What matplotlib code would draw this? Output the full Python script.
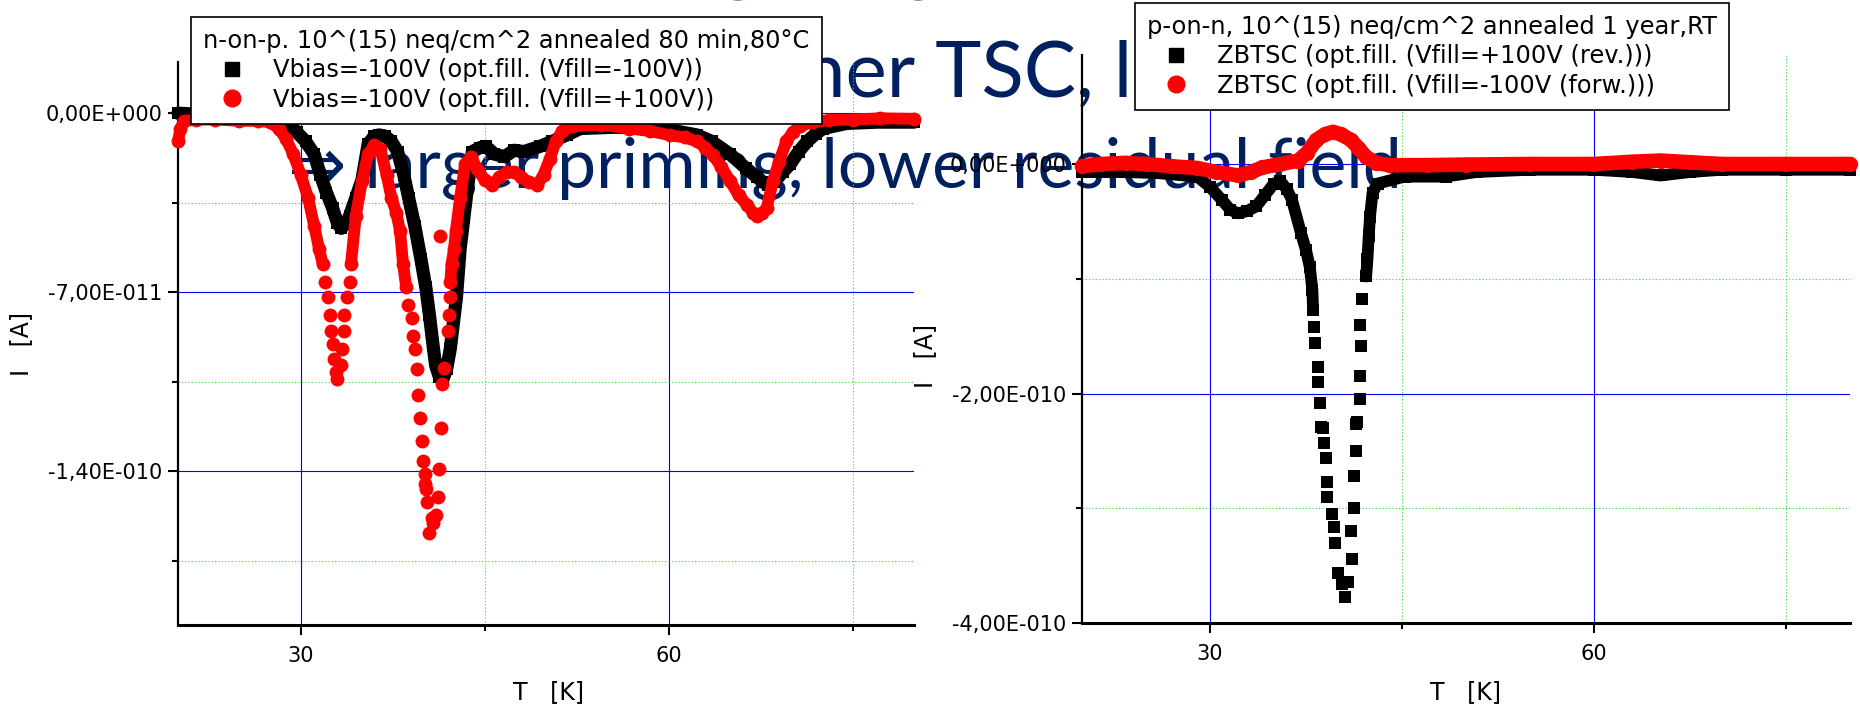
import numpy as np
import matplotlib
matplotlib.use('Agg')
import matplotlib.pyplot as plt
from matplotlib.lines import Line2D
from matplotlib.ticker import FixedLocator, FuncFormatter

# ---------------- data ----------------
# left panel: n-on-p, T in K, I in units of 1e-11 A
np_black_T = [20.0, 22.0, 24.0, 26.0, 27.5, 28.2, 29.0, 29.7, 30.4, 31.1, 31.6, 32.1, 32.6, 33.0,
              33.3, 33.7, 34.0, 34.5, 35.0, 35.5, 36.0, 36.4, 36.9, 37.4, 37.9, 38.4, 38.8, 39.3,
              39.8, 40.2, 40.5, 40.8, 41.0, 41.3, 41.6, 41.9, 42.2, 42.5, 42.7, 43.0, 43.3, 43.5,
              43.8, 44.0, 44.6, 45.1, 45.8, 46.6, 47.4, 48.2, 49.5, 50.5, 51.7, 52.8, 55.5, 59.5,
              62.3, 63.5, 65.0, 66.3, 67.2, 67.7, 68.1, 68.6, 69.3, 69.9, 70.6, 71.3, 72.0, 72.6,
              74.5, 77.0, 80.0]
np_black_I = [0.0, -0.05, -0.05, -0.05, -0.1, -0.2, -0.4, -0.75, -1.1, -1.6, -2.4, -3.1, -3.7, -4.3,
              -4.5, -4.3, -4.0, -3.3, -2.6, -1.2, -0.9, -0.85, -0.9, -1.1, -1.5, -2.4, -3.3, -4.4,
              -5.7, -6.8, -7.9, -9.1, -9.85, -10.3, -10.4, -10.0, -9.2, -8.0, -7.2, -5.3, -4.1, -3.3,
              -2.2, -1.5, -1.35, -1.3, -1.6, -1.7, -1.45, -1.5, -1.3, -1.1, -0.85, -0.6, -0.55, -0.6,
              -0.85, -1.1, -1.6, -2.15, -2.5, -2.7, -2.8, -2.7, -2.3, -2.0, -1.5, -1.1, -0.8, -0.6,
              -0.4, -0.35, -0.35]

np_red_band1_T = [20.0, 20.2, 20.5, 21.5, 23.0, 25.0, 26.5, 27.5, 28.2, 28.8, 29.4, 30.0, 30.6,
                  31.1, 31.5, 31.8]
np_red_band1_I = [-1.1, -0.6, -0.3, -0.25, -0.25, -0.3, -0.3, -0.35, -0.6, -1.0, -1.6, -2.4, -3.3,
                  -4.4, -5.3, -5.9]
np_red_dip1_T = [32.0, 32.2, 32.4, 32.5, 32.6, 32.75, 32.9, 33.0, 33.3, 33.4, 33.5, 33.55, 33.8, 34.0]
np_red_dip1_I = [-6.6, -7.2, -7.9, -8.5, -9.0, -9.6, -10.1, -10.4, -9.85, -9.2, -8.5, -7.9, -7.2, -6.6]
np_red_band2_T = [34.1, 34.5, 35.0, 35.5, 36.0, 36.5, 37.0, 37.4, 37.8, 38.1, 38.35, 38.6]
np_red_band2_I = [-5.9, -4.0, -2.65, -1.6, -1.25, -1.4, -2.4, -3.3, -3.9, -4.6, -5.9, -6.8]
np_red_dip2_T = [38.75, 39.05, 39.15, 39.3, 39.5, 39.6, 39.72, 39.89, 39.97, 40.13, 40.13, 40.21,
                 40.29, 40.46, 40.7, 40.78, 41.03, 41.19, 41.27, 41.4, 41.5, 41.7, 42.0, 42.1,
                 42.2, 41.35]
np_red_dip2_I = [-7.5, -8.0, -8.7, -9.2, -10.0, -11.0, -11.9, -12.8, -13.6, -14.1, -14.5, -14.7,
                 -15.2, -16.4, -15.8, -16.0, -15.7, -15.0, -13.9, -12.3, -10.6, -9.95, -8.5, -7.9,
                 -7.2, -4.8]
np_red_band3_T = [42.2, 42.3, 42.5, 42.65, 43.0, 43.4, 43.9, 44.4, 45.0, 45.6, 46.2, 46.8, 47.4,
                  48.0, 48.6, 49.3, 49.8, 50.3, 50.8, 51.3, 52.2, 54.5, 56.8, 58.5, 60.1, 61.3,
                  62.3, 63.0, 63.6, 64.3, 65.0, 65.7, 66.4, 66.9, 67.2, 67.6, 68.0, 68.5, 69.0,
                  69.6, 70.1, 70.7, 71.8, 73.1, 75.0, 77.2, 80.0]
np_red_band3_I = [-6.6, -5.9, -5.3, -4.6, -3.3, -2.0, -1.7, -2.2, -2.6, -2.8, -2.5, -2.3, -2.3,
                  -2.5, -2.7, -2.8, -2.4, -1.8, -1.1, -0.7, -0.5, -0.45, -0.6, -0.7, -0.86, -0.95,
                  -1.1, -1.35, -1.64, -2.1, -2.65, -3.2, -3.6, -3.9, -4.0, -3.9, -3.7, -2.65, -1.9,
                  -1.1, -0.75, -0.5, -0.35, -0.27, -0.25, -0.2, -0.22]

# right panel: p-on-n, T in K, I in units of 1e-10 A
pn_red_T = [20.0, 21.5, 23.4, 25.0, 27.0, 29.0, 30.5, 32.2, 33.2, 34.1, 35.5, 36.9, 37.6, 38.3,
            39.0, 39.6, 40.2, 41.0, 41.6, 42.2, 43.0, 44.0, 47.0, 50.0, 55.0, 60.0, 63.0, 65.2,
            67.5, 70.0, 75.0, 80.0]
pn_red_I = [-0.02, 0.0, 0.01, 0.0, -0.02, -0.035, -0.07, -0.1, -0.07, -0.03, 0.0, 0.03, 0.1, 0.21,
            0.26, 0.28, 0.26, 0.21, 0.14, 0.06, 0.01, -0.01, -0.01, -0.005, 0.0, 0.0, 0.02, 0.03,
            0.015, 0.0, 0.0, 0.0]
pn_black_band1_T = [20.0, 23.4, 26.0, 29.0, 30.0, 30.9, 31.6, 32.2, 32.9, 33.6, 34.3, 35.0, 35.5,
                    36.0, 36.4, 37.1, 37.5, 37.8, 38.0, 38.05]
pn_black_band1_I = [-0.07, -0.07, -0.08, -0.11, -0.2, -0.31, -0.4, -0.43, -0.41, -0.37, -0.27,
                    -0.17, -0.15, -0.22, -0.31, -0.6, -0.75, -0.9, -1.1, -1.27]
pn_black_dip_T = [38.1, 38.2, 38.4, 38.4, 38.6, 38.7, 38.8, 38.9, 39.06, 39.14, 39.14, 39.53, 39.7,
                  39.77, 40.0, 40.3, 40.55, 40.8, 41.1, 41.0, 41.25, 41.25, 41.4, 41.4, 41.7, 41.5,
                  41.7, 41.8, 41.7, 41.9]
pn_black_dip_I = [-1.42, -1.56, -1.77, -1.9, -2.08, -2.29, -2.3, -2.43, -2.56, -2.77, -2.9, -3.05,
                  -3.16, -3.3, -3.56, -3.66, -3.77, -3.64, -3.44, -3.2, -3.0, -2.72, -2.5, -2.27,
                  -2.05, -2.25, -1.85, -1.59, -1.4, -1.18]
pn_black_band2_T = [42.2, 42.3, 42.4, 42.5, 42.7, 43.1, 45.2, 48.4, 50.8, 55.0, 60.0, 63.0, 65.2,
                    67.5, 70.0, 75.0, 80.0]
pn_black_band2_I = [-0.98, -0.83, -0.63, -0.46, -0.25, -0.17, -0.11, -0.11, -0.07, -0.05, -0.05,
                    -0.07, -0.1, -0.07, -0.05, -0.05, -0.05]

left_title = 'n-on-p. 10^(15) neq/cm^2 annealed 80 min,80°C'
left_labels = ['Vbias=-100V (opt.fill. (Vfill=-100V))', 'Vbias=-100V (opt.fill. (Vfill=+100V))']
right_title = 'p-on-n, 10^(15) neq/cm^2 annealed 1 year,RT'
right_labels = ['ZBTSC (opt.fill. (Vfill=+100V (rev.)))', 'ZBTSC (opt.fill. (Vfill=-100V (forw.)))']
slide_lines = ['p-on-n priming by light', 'higher TSC, lower', '⇒ larger priming, lower residual field']

# ---------------- figure ----------------
W, H = 1860, 714
fig = plt.figure(figsize=(W / 100, H / 100), dpi=100, facecolor='white')
BLUE = '#0000ff'
GREEN = '#33dd33'
RED = '#ff0000'
NAVY = '#002060'


def origin_fmt(v, pos):
    if abs(v) < 1e-20:
        return '0,00E+000'
    e = int(np.floor(np.log10(abs(v)) + 1e-9))
    m = v / 10.0 ** e
    return '%sE%s%03d' % (('%.2f' % m).replace('.', ','), '+' if e >= 0 else '-', abs(e))


def style_axes(ax, ymaj, ymin):
    ax.patch.set_facecolor('none')
    for s in ['top', 'right']:
        ax.spines[s].set_visible(False)
    ax.spines['left'].set_linewidth(1.6)
    ax.spines['bottom'].set_linewidth(2.2)
    ax.set_xlim(20, 80)
    ax.xaxis.set_major_locator(FixedLocator([30, 60]))
    ax.xaxis.set_minor_locator(FixedLocator([45, 75]))
    ax.yaxis.set_major_locator(FixedLocator(ymaj))
    ax.yaxis.set_minor_locator(FixedLocator(ymin))
    ax.yaxis.set_major_formatter(FuncFormatter(origin_fmt))
    ax.tick_params(which='major', direction='out', length=7, width=1.5, labelsize=15, pad=4)
    ax.tick_params(axis='x', which='major', pad=8)
    ax.tick_params(which='minor', direction='out', length=4.5, width=1.5)
    ax.grid(which='major', color=BLUE, lw=0.8, ls='-')
    ax.grid(which='minor', color=GREEN, lw=0.8, ls=(0, (1, 2)))
    ax.set_axisbelow(True)
    ax.set_xlabel('T   [K]', fontsize=17)
    ax.set_ylabel('I   [A]', fontsize=17)


def band(ax, T, I, scale, color, marker, ms, lw, z):
    ax.plot(T, np.array(I) * scale, color=color, lw=lw, marker=marker, ms=ms, mew=0,
            solid_capstyle='round', solid_joinstyle='round', zorder=z, clip_on=False)


def dots(ax, T, I, scale, color, marker, ms, z):
    ax.plot(T, np.array(I) * scale, ls='none', color=color, marker=marker, ms=ms, mew=0, zorder=z)


def add_legend(ax, title, labels, x, y):
    handles = [Line2D([], [], ls='none', marker='s', color='black', ms=10),
               Line2D([], [], ls='none', marker='o', color=RED, ms=12)]
    leg = ax.legend(handles, labels, title=title, loc='upper left', bbox_to_anchor=(x / W, 1 - y / H),
                    bbox_transform=fig.transFigure, fontsize=17.4, title_fontsize=17.4, alignment='left',
                    frameon=True, fancybox=False, framealpha=1, edgecolor='black', borderpad=0.5,
                    handlelength=2.4, handletextpad=0.5, labelspacing=0.22, borderaxespad=0)
    leg.get_frame().set_linewidth(1.2)
    leg.set_zorder(20)
    return leg


# left panel
ax1 = fig.add_axes([178 / W, (H - 625) / H, 736 / W, 563 / H])
style_axes(ax1, [0, -7e-11, -1.4e-10], [-3.5e-11, -1.05e-10, -1.75e-10])
ax1.set_ylim(-2.0e-10, 2.0e-11)
band(ax1, np_black_T, np_black_I, 1e-11, 'black', 's', 8.5, 9.5, 3)
band(ax1, np_red_band1_T, np_red_band1_I, 1e-11, RED, 'o', 10, 8.5, 4)
dots(ax1, np_red_dip1_T, np_red_dip1_I, 1e-11, RED, 'o', 10, 4)
band(ax1, np_red_band2_T, np_red_band2_I, 1e-11, RED, 'o', 10, 8.5, 4)
dots(ax1, np_red_dip2_T, np_red_dip2_I, 1e-11, RED, 'o', 10, 4)
band(ax1, np_red_band3_T, np_red_band3_I, 1e-11, RED, 'o', 10, 8.5, 4)
ax1.yaxis.set_label_coords(-0.197, 0.5)
ax1.xaxis.set_label_coords(0.503, -0.098)
add_legend(ax1, left_title, left_labels, 191, 17)

# right panel
ax2 = fig.add_axes([1082 / W, (H - 623) / H, 768 / W, 568 / H])
style_axes(ax2, [0, -2e-10, -4e-10], [-1e-10, -3e-10])
ax2.set_ylim(-4.0e-10, 0.95e-10)
band(ax2, pn_black_band1_T, pn_black_band1_I, 1e-10, 'black', 's', 8.5, 8.5, 3)
dots(ax2, pn_black_dip_T, pn_black_dip_I, 1e-10, 'black', 's', 8.5, 3)
band(ax2, pn_black_band2_T, pn_black_band2_I, 1e-10, 'black', 's', 8.5, 8.5, 3)
band(ax2, pn_red_T, pn_red_I, 1e-10, RED, 'o', 11, 10.5, 4)
ax2.yaxis.set_label_coords(-0.189, 0.47)
ax2.xaxis.set_label_coords(0.499, -0.100)
add_legend(ax2, right_title, right_labels, 1135, 3)

# slide text lying under the two charts
fam = ['Lato', 'DejaVu Sans']
t3 = fig.text(288 / W, 1 - 188 / H, slide_lines[2], color=NAVY, fontsize=50, family=fam,
              va='baseline', ha='left', zorder=-5)
fig.canvas.draw()
r = fig.canvas.get_renderer()
fs = 50 * 1113 / t3.get_window_extent(r).width
t3.set_fontsize(fs)
t1 = fig.text(300 / W, 1 + 13 / H, slide_lines[0], color=NAVY, fontsize=fs, family=fam,
              va='baseline', ha='left', zorder=-5)
fs2 = fs * 1.12
tail = fig.text(0, 0, 'TSC, lower', fontsize=fs2, family=fam)
t2 = fig.text(0, 0, slide_lines[1], fontsize=fs2, family=fam)
shift = t2.get_window_extent(r).width - tail.get_window_extent(r).width
tail.remove()
t2.set_position(((935 - shift) / W, 1 - 97 / H))
t2.set(color=NAVY, va='baseline', ha='left', zorder=-5)

fig.savefig('out.png', dpi=100, facecolor='white')
